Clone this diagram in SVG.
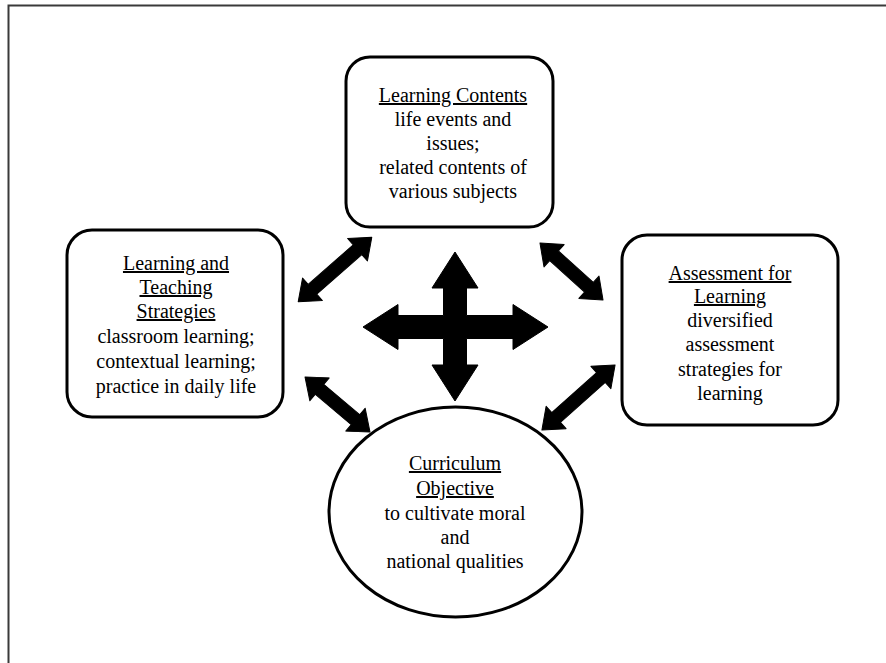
<svg xmlns="http://www.w3.org/2000/svg" width="886" height="663" viewBox="0 0 886 663">
<style>
.box{fill:#fff;stroke:#000;stroke-width:3}
.t{font-family:"Liberation Serif","Times New Roman",serif;font-size:20px;fill:#000;text-anchor:middle}
.u{text-decoration:underline}
.arr{fill:#000;stroke:#000;stroke-width:1;stroke-linejoin:round}
.frame{stroke:#3a3a3a;stroke-width:2;fill:none}
</style>
<rect width="886" height="663" fill="#fff"/>
<path class="frame" d="M8.5,663 V5.5 H886"/>
<g id="learning-contents">
<rect class="box" x="346" y="57" width="207" height="170" rx="24"/>
<text class="t u" x="453" y="102">Learning Contents</text>
<text class="t" x="453" y="126">life events and</text>
<text class="t" x="453" y="150">issues;</text>
<text class="t" x="453" y="174">related contents of</text>
<text class="t" x="453" y="198">various subjects</text>
</g>
<g id="learning-teaching">
<rect class="box" x="67" y="230" width="216" height="187" rx="25"/>
<text class="t u" x="176" y="270">Learning and</text>
<text class="t u" x="176" y="294">Teaching</text>
<text class="t u" x="176" y="318">Strategies</text>
<text class="t" x="176" y="343">classroom learning;</text>
<text class="t" x="176" y="368">contextual learning;</text>
<text class="t" x="176" y="393">practice in daily life</text>
</g>
<g id="assessment">
<rect class="box" x="622" y="235" width="216" height="190" rx="25"/>
<text class="t u" x="730" y="280">Assessment for</text>
<text class="t u" x="730" y="303">Learning</text>
<text class="t" x="730" y="327">diversified</text>
<text class="t" x="730" y="351">assessment</text>
<text class="t" x="730" y="376">strategies for</text>
<text class="t" x="730" y="400">learning</text>
</g>
<g id="curriculum-objective">
<ellipse class="box" cx="455.5" cy="512" rx="126.5" ry="105"/>
<text class="t u" x="455" y="470">Curriculum</text>
<text class="t u" x="455" y="495">Objective</text>
<text class="t" x="455" y="520">to cultivate moral</text>
<text class="t" x="455" y="544">and</text>
<text class="t" x="455" y="568">national qualities</text>
</g>
<g id="connectors">
<path class="arr" d="M455,252 L478,288 L466.5,288 L466.5,315.5 L513,315.5 L513,304.5 L548,327 L513,349.5 L513,338.5 L466.5,338.5 L466.5,365 L478,365 L455,401 L432,365 L443.5,365 L443.5,338.5 L398,338.5 L398,349.5 L363,327 L398,304.5 L398,315.5 L443.5,315.5 L443.5,288 L432,288 Z"/>
<path class="arr" transform="translate(335,269.5) rotate(-41.3)" d="M-49,0 L-30,-15 L-30,-6.5 L30,-6.5 L30,-15 L49,0 L30,15 L30,6.5 L-30,6.5 L-30,15 Z"/>
<path class="arr" transform="translate(571.5,271.5) rotate(42.1)" d="M-42.5,0 L-23.5,-15 L-23.5,-6.5 L23.5,-6.5 L23.5,-15 L42.5,0 L23.5,15 L23.5,6.5 L-23.5,6.5 L-23.5,15 Z"/>
<path class="arr" transform="translate(578.5,397.5) rotate(-41.7)" d="M-49,0 L-30,-15 L-30,-6.5 L30,-6.5 L30,-15 L49,0 L30,15 L30,6.5 L-30,6.5 L-30,15 Z"/>
<path class="arr" transform="translate(337.5,404.5) rotate(40.2)" d="M-42.5,0 L-23.5,-15 L-23.5,-6.5 L23.5,-6.5 L23.5,-15 L42.5,0 L23.5,15 L23.5,6.5 L-23.5,6.5 L-23.5,15 Z"/>
</g>
</svg>
